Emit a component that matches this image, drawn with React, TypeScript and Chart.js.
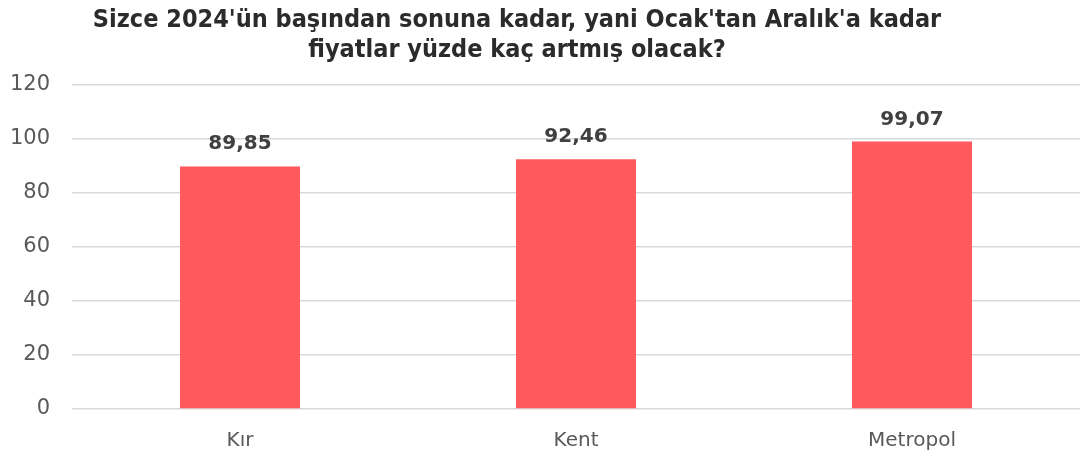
import React, { useEffect, useRef } from "react";
import { Chart, registerables } from "chart.js";

Chart.register(...registerables);

const categories = ["Kır", "Kent", "Metropol"];
const values = [89.85, 92.46, 99.07];
const valueLabels = ["89,85", "92,46", "99,07"];
const titleLines = [
  "Sizce 2024'ün başından sonuna kadar, yani Ocak'tan Aralık'a kadar",
  "fiyatlar yüzde kaç artmış olacak?",
];

const titlePlugin = {
  id: "customTitle",
  afterDraw(chart: any) {
    const ctx = chart.ctx;
    ctx.save();
    ctx.font = "bold 25px 'DejaVu Sans Condensed', 'Liberation Sans Narrow', sans-serif";
    ctx.fillStyle = "#2b2b2b";
    ctx.textAlign = "center";
    ctx.textBaseline = "middle";
    ctx.fillText(titleLines[0], 517, 20);
    ctx.fillText(titleLines[1], 517, 50);
    ctx.restore();
  },
};

const labelPlugin = {
  id: "valueLabels",
  afterDatasetsDraw(chart: any) {
    const ctx = chart.ctx;
    const meta = chart.getDatasetMeta(0);
    ctx.save();
    ctx.font = "bold 20px 'DejaVu Sans', sans-serif";
    ctx.fillStyle = "#404040";
    ctx.textAlign = "center";
    ctx.textBaseline = "alphabetic";
    meta.data.forEach((bar: any, i: number) => {
      ctx.fillText(valueLabels[i], bar.x, bar.y - 17);
    });
    ctx.restore();
  },
};

export default function App() {
  const ref = useRef<HTMLCanvasElement>(null);
  useEffect(() => {
    document.body.style.margin = "0";
    const chart = new Chart(ref.current!, {
      type: "bar",
      data: {
        labels: categories,
        datasets: [
          {
            data: values,
            backgroundColor: "#FF585D",
            barPercentage: 0.357,
            categoryPercentage: 1,
          },
        ],
      },
      options: {
        animation: false,
        responsive: false,
        layout: { padding: { top: 85, right: 1, left: 0, bottom: 0 } },
        plugins: { legend: { display: false }, tooltip: { enabled: false } },
        scales: {
          x: {
            grid: { display: false },
            border: { display: false },
            ticks: {
              color: "#595959",
              font: { size: 20, family: "'DejaVu Sans', sans-serif" },
              padding: 12,
            },
            afterFit(scale: any) {
              scale.height = 45;
            },
          },
          y: {
            min: 0,
            max: 120,
            grid: { color: "#d9d9d9", lineWidth: 1.5, drawTicks: false },
            border: { display: false },
            ticks: {
              stepSize: 20,
              color: "#595959",
              font: { size: 21, family: "'DejaVu Sans', sans-serif" },
              padding: 22,
            },
            afterFit(scale: any) {
              scale.width = 72;
            },
          },
        },
      },
      plugins: [titlePlugin, labelPlugin],
    });
    return () => chart.destroy();
  }, []);
  return <canvas ref={ref} width={1081} height={454} style={{ display: "block" }} />;
}
